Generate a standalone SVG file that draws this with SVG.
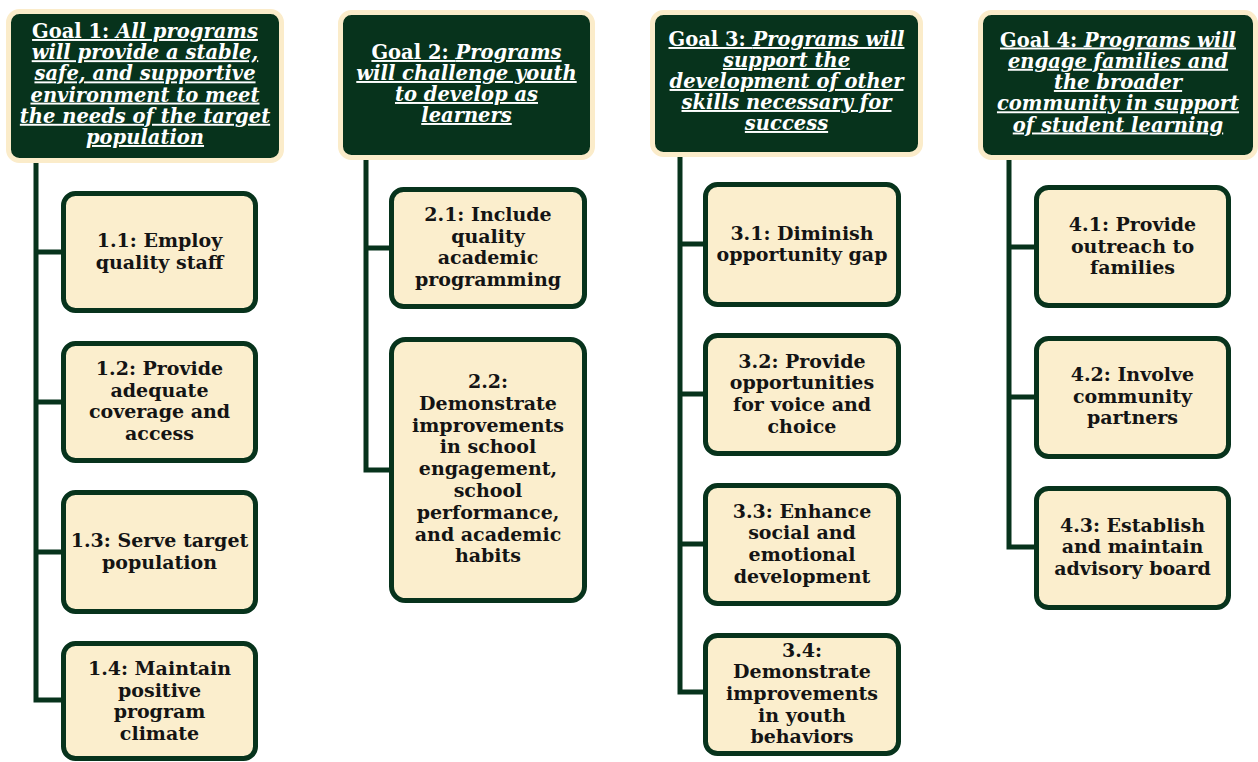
<svg xmlns="http://www.w3.org/2000/svg" width="1258" height="762" viewBox="0 0 1258 762">
<style>
.goal{fill:#07331c;stroke:#fbecca;stroke-width:5}
.box{fill:#fbeecd;stroke:#07331c;stroke-width:5}
.gt{font-family:"DejaVu Serif","Liberation Serif",serif;font-weight:bold;font-size:19.5px;fill:#ffffff;text-anchor:middle;text-decoration:underline}
.gt .i{font-style:italic}
.bt{font-family:"DejaVu Serif","Liberation Serif",serif;font-weight:bold;font-size:19px;fill:#141414;text-anchor:middle}
.conn{fill:none;stroke:#07331c;stroke-width:5;stroke-linejoin:miter;stroke-linecap:butt}
</style>
<rect width="1258" height="762" fill="#ffffff"/>
<g id="connectors">
<path class="conn" d="M36 160 V700 H64 M36 252 H64 M36 402 H64 M36 552 H64"/>
<path class="conn" d="M366 157 V470 H392 M366 248 H392"/>
<path class="conn" d="M680 155 V692 H706 M680 244 H706 M680 394 H706 M680 544 H706"/>
<path class="conn" d="M1009 157 V547 H1037 M1009 247 H1037 M1009 397 H1037"/>
</g>
<g id="goal1">
<rect class="goal" x="8.5" y="11.5" width="273" height="149" rx="11"/>
<text class="gt"><tspan x="145" y="38">Goal 1: <tspan class="i">All programs</tspan></tspan><tspan class="i" x="145" y="59.2">will provide a stable,</tspan><tspan class="i" x="145" y="80.4">safe, and supportive</tspan><tspan class="i" x="145" y="101.6">environment to meet</tspan><tspan class="i" x="145" y="122.8">the needs of the target</tspan><tspan class="i" x="145" y="144">population</tspan></text>
</g>
<g id="goal2">
<rect class="goal" x="340.5" y="12.5" width="252" height="145" rx="11"/>
<text class="gt"><tspan x="466.5" y="59">Goal 2: <tspan class="i">Programs</tspan></tspan><tspan class="i" x="466.5" y="80">will challenge youth</tspan><tspan class="i" x="466.5" y="101">to develop as</tspan><tspan class="i" x="466.5" y="122">learners</tspan></text>
</g>
<g id="goal3">
<rect class="goal" x="652.5" y="12.5" width="268" height="142" rx="11"/>
<text class="gt"><tspan x="786.5" y="46">Goal 3: <tspan class="i">Programs will</tspan></tspan><tspan class="i" x="786.5" y="67">support the</tspan><tspan class="i" x="786.5" y="88">development of other</tspan><tspan class="i" x="786.5" y="109">skills necessary for</tspan><tspan class="i" x="786.5" y="130">success</tspan></text>
</g>
<g id="goal4">
<rect class="goal" x="980.5" y="12.5" width="275" height="145" rx="11"/>
<text class="gt"><tspan x="1118" y="46.5">Goal 4: <tspan class="i">Programs will</tspan></tspan><tspan class="i" x="1118" y="67.8">engage families and</tspan><tspan class="i" x="1118" y="89">the broader</tspan><tspan class="i" x="1118" y="110.3">community in support</tspan><tspan class="i" x="1118" y="131.5">of student learning</tspan></text>
</g>
<g id="n1_1">
<rect class="box" x="63.5" y="193.5" width="192" height="117" rx="12"/>
<text class="bt"><tspan x="159.5" y="247">1.1: Employ</tspan><tspan x="159.5" y="268.7">quality staff</tspan></text>
</g>
<g id="n1_2">
<rect class="box" x="63.5" y="343.5" width="192" height="117" rx="12"/>
<text class="bt"><tspan x="159.5" y="375">1.2: Provide</tspan><tspan x="159.5" y="396.7">adequate</tspan><tspan x="159.5" y="418.4">coverage and</tspan><tspan x="159.5" y="440.1">access</tspan></text>
</g>
<g id="n1_3">
<rect class="box" x="63.5" y="492.5" width="192" height="119" rx="12"/>
<text class="bt"><tspan x="159.5" y="547">1.3: Serve target</tspan><tspan x="159.5" y="568.7">population</tspan></text>
</g>
<g id="n1_4">
<rect class="box" x="63.5" y="643.5" width="192" height="115" rx="12"/>
<text class="bt"><tspan x="159.5" y="675">1.4: Maintain</tspan><tspan x="159.5" y="696.7">positive</tspan><tspan x="159.5" y="718.4">program</tspan><tspan x="159.5" y="740.1">climate</tspan></text>
</g>
<g id="n2_1">
<rect class="box" x="391.5" y="189.5" width="193" height="117" rx="12"/>
<text class="bt"><tspan x="488" y="221">2.1: Include</tspan><tspan x="488" y="242.7">quality</tspan><tspan x="488" y="264.4">academic</tspan><tspan x="488" y="286.1">programming</tspan></text>
</g>
<g id="n2_2">
<rect class="box" x="391.5" y="339.5" width="193" height="261" rx="14"/>
<text class="bt"><tspan x="488" y="388">2.2:</tspan><tspan x="488" y="409.8">Demonstrate</tspan><tspan x="488" y="431.6">improvements</tspan><tspan x="488" y="453.4">in school</tspan><tspan x="488" y="475.2">engagement,</tspan><tspan x="488" y="497">school</tspan><tspan x="488" y="518.8">performance,</tspan><tspan x="488" y="540.6">and academic</tspan><tspan x="488" y="562.4">habits</tspan></text>
</g>
<g id="n3_1">
<rect class="box" x="705.5" y="184.5" width="193" height="120" rx="12"/>
<text class="bt"><tspan x="802" y="239.5">3.1: Diminish</tspan><tspan x="802" y="261.2">opportunity gap</tspan></text>
</g>
<g id="n3_2">
<rect class="box" x="705.5" y="335.5" width="193" height="118" rx="12"/>
<text class="bt"><tspan x="802" y="367.5">3.2: Provide</tspan><tspan x="802" y="389.2">opportunities</tspan><tspan x="802" y="410.9">for voice and</tspan><tspan x="802" y="432.6">choice</tspan></text>
</g>
<g id="n3_3">
<rect class="box" x="705.5" y="485.5" width="193" height="118" rx="12"/>
<text class="bt"><tspan x="802" y="517.5">3.3: Enhance</tspan><tspan x="802" y="539.2">social and</tspan><tspan x="802" y="560.9">emotional</tspan><tspan x="802" y="582.6">development</tspan></text>
</g>
<g id="n3_4">
<rect class="box" x="705.5" y="635.5" width="193" height="118" rx="12"/>
<text class="bt"><tspan x="802" y="656.5">3.4:</tspan><tspan x="802" y="678.2">Demonstrate</tspan><tspan x="802" y="699.9">improvements</tspan><tspan x="802" y="721.6">in youth</tspan><tspan x="802" y="743.3">behaviors</tspan></text>
</g>
<g id="n4_1">
<rect class="box" x="1036.5" y="187.5" width="192" height="118" rx="12"/>
<text class="bt"><tspan x="1132.5" y="231">4.1: Provide</tspan><tspan x="1132.5" y="252.7">outreach to</tspan><tspan x="1132.5" y="274.4">families</tspan></text>
</g>
<g id="n4_2">
<rect class="box" x="1036.5" y="338.5" width="192" height="118" rx="12"/>
<text class="bt"><tspan x="1132.5" y="381">4.2: Involve</tspan><tspan x="1132.5" y="402.7">community</tspan><tspan x="1132.5" y="424.4">partners</tspan></text>
</g>
<g id="n4_3">
<rect class="box" x="1036.5" y="488.5" width="192" height="119" rx="12"/>
<text class="bt"><tspan x="1132.5" y="531.5">4.3: Establish</tspan><tspan x="1132.5" y="553.2">and maintain</tspan><tspan x="1132.5" y="574.9">advisory board</tspan></text>
</g>
</svg>
